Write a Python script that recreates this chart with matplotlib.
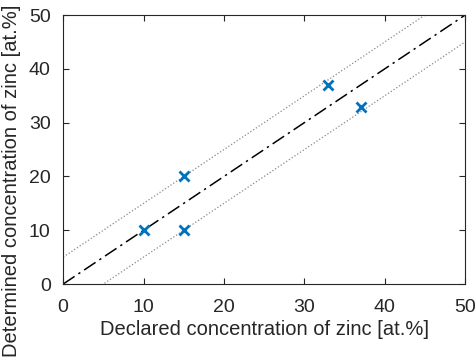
import numpy as np
import matplotlib
matplotlib.use("Agg")
import matplotlib.pyplot as plt

plt.rcParams['font.family'] = ['Liberation Sans', 'DejaVu Sans']

# measured points
declared = [10, 15, 15, 33, 37]
determined = [10, 20, 10, 37, 33]
band = 5  # tolerance band in at.%

ref_x = np.array([0, 50])

fig = plt.figure(figsize=(4.75, 3.6), dpi=100)
ax = fig.add_axes([0.133, 0.211, 0.846, 0.747])

ax.plot(ref_x, ref_x, color='black', linestyle=(0, (9, 3, 1.5, 3)), linewidth=1.1)
ax.plot(ref_x, ref_x + band, color='#888888', linestyle=':', linewidth=0.9)
ax.plot(ref_x, ref_x - band, color='#888888', linestyle=':', linewidth=0.9)
ax.plot(declared, determined, linestyle='none', marker='x', color='#0072BD',
        markersize=7, markeredgewidth=2)

ax.set_xlim(0, 50)
ax.set_ylim(0, 50)
ax.set_xticks([0, 10, 20, 30, 40, 50])
ax.set_yticks([0, 10, 20, 30, 40, 50])
ax.tick_params(direction='in', top=True, right=True, labelsize=14,
               length=4, width=0.8, colors='#262626', pad=9)
ax.tick_params(axis='x', pad=11)
for s in ax.spines.values():
    s.set_color('#262626')
    s.set_linewidth(0.8)

ax.set_xlabel('Declared concentration of zinc [at.%]', fontsize=14.5,
              color='#262626', labelpad=3)
ax.set_ylabel('Determined concentration of zinc [at.%]', fontsize=14.5,
              color='#262626')
ax.yaxis.set_label_coords(-0.105, 0.383)

fig.savefig('out.png', dpi=100)
